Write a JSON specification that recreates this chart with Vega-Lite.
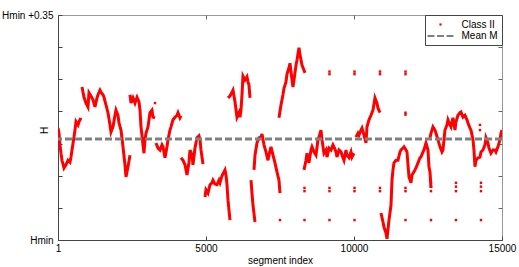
{
  "$schema": "https://vega.github.io/schema/vega-lite/v6.json",
  "width": 444,
  "height": 225,
  "autosize": "none",
  "padding": {"left": 58, "top": 15, "right": 17, "bottom": 27},
  "config": {
    "font": "Liberation Sans",
    "view": {"stroke": "#999999", "strokeWidth": 1},
    "axis": {"labelFontSize": 10, "titleFontSize": 10, "titleFontWeight": "normal", "labelColor": "#000000", "titleColor": "#000000", "grid": false, "labelOverlap": false, "labelFlush": false}
  },
  "layer": [
    {
      "layer": [
        {
          "data": {"values": [
            {"x":1,"y":0.174,"s":"A"},{"x":35,"y":0.166,"s":"A"},{"x":69,"y":0.148,"s":"A"},{"x":102,"y":0.135,"s":"A"},{"x":136,"y":0.124,"s":"A"},{"x":204,"y":0.112,"s":"A"},{"x":271,"y":0.117,"s":"A"},{"x":339,"y":0.124,"s":"A"},{"x":406,"y":0.121,"s":"A"},{"x":440,"y":0.129,"s":"A"},{"x":474,"y":0.140,"s":"A"},{"x":541,"y":0.160,"s":"A"},{"x":575,"y":0.171,"s":"A"},{"x":609,"y":0.184,"s":"A"},{"x":677,"y":0.179,"s":"A"},{"x":710,"y":0.184,"s":"A"},{"x":744,"y":0.187,"s":"A"},{"x":778,"y":0.190,"s":"A"},
            {"x":812,"y":0.238,"s":"B"},{"x":879,"y":0.222,"s":"B"},{"x":947,"y":0.213,"s":"B"},{"x":1014,"y":0.207,"s":"B"},{"x":1048,"y":0.229,"s":"B"},{"x":1116,"y":0.224,"s":"B"},{"x":1183,"y":0.218,"s":"B"},{"x":1251,"y":0.207,"s":"B"},{"x":1318,"y":0.221,"s":"B"},{"x":1352,"y":0.226,"s":"B"},{"x":1420,"y":0.233,"s":"B"},{"x":1454,"y":0.230,"s":"B"},{"x":1521,"y":0.226,"s":"B"},{"x":1555,"y":0.222,"s":"B"},{"x":1622,"y":0.210,"s":"B"},{"x":1690,"y":0.198,"s":"B"},{"x":1758,"y":0.179,"s":"B"},{"x":1791,"y":0.168,"s":"B"},{"x":1859,"y":0.176,"s":"B"},{"x":1926,"y":0.194,"s":"B"},{"x":1960,"y":0.202,"s":"B"},{"x":2028,"y":0.194,"s":"B"},{"x":2062,"y":0.182,"s":"B"},{"x":2129,"y":0.171,"s":"B"},{"x":2197,"y":0.145,"s":"B"},{"x":2264,"y":0.117,"s":"B"},{"x":2298,"y":0.098,"s":"B"},{"x":2366,"y":0.114,"s":"B"},{"x":2433,"y":0.132,"s":"B"},
            {"x":2433,"y":0.226,"s":"C"},{"x":2467,"y":0.213,"s":"C"},{"x":2534,"y":0.221,"s":"C"},{"x":2602,"y":0.213,"s":"C"},{"x":2670,"y":0.222,"s":"C"},{"x":2737,"y":0.215,"s":"C"},{"x":2771,"y":0.202,"s":"C"},{"x":2805,"y":0.176,"s":"C"},{"x":2838,"y":0.163,"s":"C"},{"x":2872,"y":0.148,"s":"C"},{"x":2906,"y":0.135,"s":"C"},{"x":2940,"y":0.156,"s":"C"},{"x":2974,"y":0.166,"s":"C"},{"x":3041,"y":0.176,"s":"C"},{"x":3109,"y":0.198,"s":"C"},{"x":3176,"y":0.202,"s":"C"},{"x":3210,"y":0.191,"s":"C"},{"x":3278,"y":0.190,"s":"C"},
            {"x":3311,"y":0.151,"s":"D"},{"x":3379,"y":0.143,"s":"D"},{"x":3447,"y":0.140,"s":"D"},{"x":3514,"y":0.148,"s":"D"},{"x":3548,"y":0.145,"s":"D"},{"x":3615,"y":0.128,"s":"D"},{"x":3683,"y":0.145,"s":"D"},{"x":3717,"y":0.156,"s":"D"},{"x":3784,"y":0.171,"s":"D"},{"x":3818,"y":0.176,"s":"D"},{"x":3886,"y":0.187,"s":"D"},{"x":3953,"y":0.191,"s":"D"},{"x":4021,"y":0.194,"s":"D"},{"x":4055,"y":0.198,"s":"D"},{"x":4122,"y":0.190,"s":"D"},{"x":4156,"y":0.193,"s":"D"},
            {"x":4156,"y":0.128,"s":"E"},{"x":4224,"y":0.124,"s":"E"},{"x":4291,"y":0.117,"s":"E"},{"x":4359,"y":0.101,"s":"E"},{"x":4426,"y":0.121,"s":"E"},{"x":4460,"y":0.140,"s":"E"},{"x":4528,"y":0.132,"s":"E"},{"x":4561,"y":0.117,"s":"E"},{"x":4629,"y":0.143,"s":"E"},{"x":4696,"y":0.159,"s":"E"},{"x":4764,"y":0.162,"s":"E"},{"x":4798,"y":0.156,"s":"E"},{"x":4832,"y":0.140,"s":"E"},{"x":4899,"y":0.118,"s":"E"},
            {"x":4967,"y":0.067,"s":"F"},{"x":5000,"y":0.078,"s":"F"},{"x":5068,"y":0.073,"s":"F"},{"x":5136,"y":0.086,"s":"F"},{"x":5203,"y":0.089,"s":"F"},{"x":5237,"y":0.093,"s":"F"},{"x":5304,"y":0.087,"s":"F"},{"x":5372,"y":0.086,"s":"F"},{"x":5440,"y":0.093,"s":"F"},{"x":5473,"y":0.089,"s":"F"},{"x":5541,"y":0.100,"s":"F"},{"x":5608,"y":0.106,"s":"F"},{"x":5642,"y":0.109,"s":"F"},{"x":5676,"y":0.101,"s":"F"},{"x":5710,"y":0.086,"s":"F"},{"x":5744,"y":0.062,"s":"F"},{"x":5777,"y":0.047,"s":"F"},{"x":5811,"y":0.031,"s":"F"},
            {"x":5744,"y":0.221,"s":"G"},{"x":5811,"y":0.224,"s":"G"},{"x":5879,"y":0.230,"s":"G"},{"x":5913,"y":0.233,"s":"G"},{"x":5980,"y":0.215,"s":"G"},{"x":6048,"y":0.191,"s":"G"},{"x":6115,"y":0.198,"s":"G"},{"x":6149,"y":0.191,"s":"G"},{"x":6183,"y":0.202,"s":"G"},{"x":6217,"y":0.226,"s":"G"},{"x":6250,"y":0.255,"s":"G"},{"x":6318,"y":0.249,"s":"G"},{"x":6385,"y":0.254,"s":"G"},{"x":6419,"y":0.246,"s":"G"},{"x":6453,"y":0.241,"s":"G"},{"x":6487,"y":0.221,"s":"G"},
            {"x":6521,"y":0.093,"s":"H"},{"x":6554,"y":0.073,"s":"H"},{"x":6588,"y":0.054,"s":"H"},{"x":6656,"y":0.028,"s":"H"},
            {"x":6622,"y":0.109,"s":"I"},{"x":6656,"y":0.132,"s":"I"},{"x":6723,"y":0.151,"s":"I"},{"x":6791,"y":0.159,"s":"I"},{"x":6858,"y":0.160,"s":"I"},{"x":6892,"y":0.165,"s":"I"},{"x":6960,"y":0.148,"s":"I"},{"x":7027,"y":0.137,"s":"I"},{"x":7095,"y":0.124,"s":"I"},{"x":7129,"y":0.132,"s":"I"},{"x":7196,"y":0.145,"s":"I"},{"x":7264,"y":0.132,"s":"I"},{"x":7331,"y":0.120,"s":"I"},{"x":7399,"y":0.106,"s":"I"},{"x":7466,"y":0.093,"s":"I"},{"x":7500,"y":0.073,"s":"I"},
            {"x":7466,"y":0.190,"s":"J"},{"x":7534,"y":0.210,"s":"J"},{"x":7601,"y":0.226,"s":"J"},{"x":7635,"y":0.236,"s":"J"},{"x":7703,"y":0.246,"s":"J"},{"x":7737,"y":0.258,"s":"J"},{"x":7804,"y":0.268,"s":"J"},{"x":7838,"y":0.275,"s":"J"},{"x":7906,"y":0.249,"s":"J"},{"x":7939,"y":0.238,"s":"J"},{"x":7973,"y":0.249,"s":"J"},{"x":8041,"y":0.272,"s":"J"},{"x":8075,"y":0.280,"s":"J"},{"x":8142,"y":0.299,"s":"J"},{"x":8176,"y":0.288,"s":"J"},{"x":8243,"y":0.272,"s":"J"},{"x":8311,"y":0.264,"s":"J"},{"x":8345,"y":0.260,"s":"J"},
            {"x":8311,"y":0.109,"s":"K"},{"x":8379,"y":0.124,"s":"K"},{"x":8412,"y":0.135,"s":"K"},{"x":8480,"y":0.120,"s":"K"},{"x":8547,"y":0.140,"s":"K"},{"x":8581,"y":0.145,"s":"K"},{"x":8649,"y":0.137,"s":"K"},{"x":8716,"y":0.132,"s":"K"},{"x":8784,"y":0.156,"s":"K"},{"x":8818,"y":0.160,"s":"K"},{"x":8885,"y":0.171,"s":"K"},{"x":8919,"y":0.156,"s":"K"},{"x":8986,"y":0.135,"s":"K"},{"x":9054,"y":0.140,"s":"K"},{"x":9088,"y":0.129,"s":"K"},{"x":9155,"y":0.143,"s":"K"},{"x":9223,"y":0.140,"s":"K"},{"x":9290,"y":0.148,"s":"K"},{"x":9324,"y":0.145,"s":"K"},{"x":9392,"y":0.137,"s":"K"},{"x":9425,"y":0.129,"s":"K"},{"x":9493,"y":0.140,"s":"K"},{"x":9561,"y":0.137,"s":"K"},{"x":9628,"y":0.128,"s":"K"},{"x":9662,"y":0.124,"s":"K"},{"x":9730,"y":0.140,"s":"K"},{"x":9763,"y":0.132,"s":"K"},{"x":9831,"y":0.128,"s":"K"},{"x":9898,"y":0.137,"s":"K"},{"x":9932,"y":0.129,"s":"K"},{"x":10000,"y":0.135,"s":"K"},
            {"x":10067,"y":0.160,"s":"L"},{"x":10135,"y":0.166,"s":"L"},{"x":10169,"y":0.163,"s":"L"},{"x":10236,"y":0.171,"s":"L"},{"x":10270,"y":0.174,"s":"L"},{"x":10338,"y":0.163,"s":"L"},{"x":10405,"y":0.151,"s":"L"},{"x":10439,"y":0.176,"s":"L"},{"x":10507,"y":0.187,"s":"L"},{"x":10574,"y":0.194,"s":"L"},{"x":10642,"y":0.202,"s":"L"},{"x":10709,"y":0.221,"s":"L"},{"x":10777,"y":0.213,"s":"L"},{"x":10811,"y":0.205,"s":"L"},{"x":10878,"y":0.198,"s":"L"},
            {"x":10912,"y":0.042,"s":"M"},{"x":10980,"y":0.028,"s":"M"},{"x":11013,"y":0.020,"s":"M"},{"x":11081,"y":0.011,"s":"M"},{"x":11115,"y":0.002,"s":"M"},{"x":11148,"y":0.016,"s":"M"},{"x":11182,"y":0.031,"s":"M"},{"x":11250,"y":0.054,"s":"M"},{"x":11284,"y":0.093,"s":"M"},{"x":11317,"y":0.109,"s":"M"},{"x":11351,"y":0.120,"s":"M"},{"x":11419,"y":0.124,"s":"M"},{"x":11486,"y":0.124,"s":"M"},{"x":11554,"y":0.137,"s":"M"},{"x":11588,"y":0.140,"s":"M"},{"x":11655,"y":0.143,"s":"M"},{"x":11689,"y":0.145,"s":"M"},{"x":11757,"y":0.140,"s":"M"},{"x":11790,"y":0.137,"s":"M"},{"x":11858,"y":0.098,"s":"M"},{"x":11925,"y":0.089,"s":"M"},{"x":11959,"y":0.101,"s":"M"},{"x":12027,"y":0.106,"s":"M"},{"x":12094,"y":0.112,"s":"M"},{"x":12162,"y":0.120,"s":"M"},{"x":12229,"y":0.128,"s":"M"},{"x":12263,"y":0.129,"s":"M"},{"x":12331,"y":0.137,"s":"M"},{"x":12364,"y":0.140,"s":"M"},{"x":12432,"y":0.151,"s":"M"},{"x":12500,"y":0.140,"s":"M"},{"x":12533,"y":0.114,"s":"M"},{"x":12567,"y":0.106,"s":"M"},{"x":12601,"y":0.081,"s":"M"},
            {"x":12567,"y":0.159,"s":"N"},{"x":12601,"y":0.166,"s":"N"},{"x":12668,"y":0.176,"s":"N"},{"x":12736,"y":0.171,"s":"N"},{"x":12770,"y":0.166,"s":"N"},{"x":12837,"y":0.156,"s":"N"},{"x":12905,"y":0.145,"s":"N"},{"x":12972,"y":0.137,"s":"N"},{"x":13006,"y":0.140,"s":"N"},{"x":13074,"y":0.171,"s":"N"},{"x":13141,"y":0.179,"s":"N"},{"x":13175,"y":0.187,"s":"N"},{"x":13243,"y":0.179,"s":"N"},{"x":13276,"y":0.176,"s":"N"},{"x":13344,"y":0.190,"s":"N"},{"x":13412,"y":0.171,"s":"N"},{"x":13445,"y":0.184,"s":"N"},{"x":13513,"y":0.194,"s":"N"},{"x":13580,"y":0.198,"s":"N"},{"x":13614,"y":0.199,"s":"N"},{"x":13682,"y":0.191,"s":"N"},{"x":13749,"y":0.194,"s":"N"},{"x":13817,"y":0.187,"s":"N"},{"x":13851,"y":0.182,"s":"N"},{"x":13918,"y":0.174,"s":"N"},{"x":13952,"y":0.171,"s":"N"},{"x":14020,"y":0.156,"s":"N"},{"x":14053,"y":0.140,"s":"N"},{"x":14087,"y":0.114,"s":"N"},{"x":14121,"y":0.124,"s":"N"},{"x":14189,"y":0.128,"s":"N"},{"x":14256,"y":0.129,"s":"N"},{"x":14290,"y":0.137,"s":"N"},{"x":14357,"y":0.140,"s":"N"},{"x":14425,"y":0.148,"s":"N"},{"x":14459,"y":0.159,"s":"N"},{"x":14526,"y":0.151,"s":"N"},{"x":14560,"y":0.143,"s":"N"},{"x":14628,"y":0.135,"s":"N"},{"x":14695,"y":0.140,"s":"N"},{"x":14763,"y":0.140,"s":"N"},{"x":14797,"y":0.137,"s":"N"},{"x":14864,"y":0.145,"s":"N"},{"x":14931,"y":0.156,"s":"N"},{"x":14965,"y":0.166,"s":"N"},{"x":15000,"y":0.171,"s":"N"}
          ]},
          "mark": {"type": "line", "color": "#ff0000", "strokeWidth": 3, "clip": true},
          "encoding": {
            "x": {"field": "x", "type": "quantitative", "scale": {"domain": [1, 15000], "nice": false, "zero": false},
                  "axis": {"orient": "bottom", "values": [1, 5000, 10000, 14999.99], "tickCount": 20, "labelExpr": "datum.value > 14999 ? '15000' : format(datum.value, 'd')", "title": "segment index", "tickSize": -4, "labelPadding": 7, "titlePadding": 2, "domainColor": "#444444", "tickColor": "#444444", "labelFlush": false, "labelOverlap": false}},
            "y": {"field": "y", "type": "quantitative", "scale": {"domain": [0, 0.35], "nice": false, "zero": false},
                  "axis": {"orient": "left", "values": [0, 0.05, 0.1, 0.15, 0.2, 0.25, 0.3, 0.34999], "tickCount": 20, "labelExpr": "datum.value < 0.001 ? 'Hmin' : (datum.value > 0.34 ? 'Hmin +0.35' : '')", "labelOverlap": false, "labelBound": false, "labelFlush": false, "labelBaseline": "middle", "title": "H", "titleX": -14, "titleY": 115, "titleAngle": 270, "titleBaseline": "middle", "titleAlign": "center", "tickSize": -4, "labelPadding": 9, "domainColor": "#444444", "tickColor": "#444444"}},
            "detail": {"field": "s"}
          }
        },
        {
          "data": {"values": [
            {"x":9172,"y":0.262},{"x":9172,"y":0.258},
            {"x":10017,"y":0.262},{"x":10017,"y":0.258},
            {"x":10878,"y":0.262},{"x":10878,"y":0.258},
            {"x":11740,"y":0.262},{"x":11740,"y":0.258},
            {"x":11740,"y":0.198},{"x":11740,"y":0.195},
            {"x":3278,"y":0.213},
            {"x":8328,"y":0.081},{"x":8328,"y":0.076},
            {"x":9172,"y":0.081},{"x":9172,"y":0.076},
            {"x":10017,"y":0.081},{"x":10017,"y":0.076},
            {"x":10878,"y":0.081},{"x":10878,"y":0.076},
            {"x":11740,"y":0.081},{"x":11740,"y":0.076},
            {"x":12601,"y":0.089},{"x":12601,"y":0.083},{"x":12601,"y":0.076},
            {"x":13445,"y":0.089},{"x":13445,"y":0.083},{"x":13445,"y":0.076},
            {"x":14290,"y":0.089},{"x":14290,"y":0.083},{"x":14290,"y":0.076},
            {"x":7500,"y":0.031},{"x":8328,"y":0.031},{"x":9172,"y":0.031},{"x":10017,"y":0.031},{"x":11740,"y":0.031},{"x":12601,"y":0.031},{"x":13445,"y":0.031},{"x":14290,"y":0.031},
            {"x":14256,"y":0.179},{"x":14256,"y":0.171}
          ]},
          "mark": {"type": "point", "filled": true, "size": 6, "opacity": 1, "shape": "square", "color": "#ff0000"},
          "encoding": {
            "x": {"field": "x", "type": "quantitative", "scale": {"domain": [1, 15000], "nice": false, "zero": false}},
            "y": {"field": "y", "type": "quantitative", "scale": {"domain": [0, 0.35], "nice": false, "zero": false}}
          }
        },
        {
          "data": {"values": [{"m": 0.157}]},
          "mark": {"type": "rule", "color": "#808080", "strokeWidth": 3, "strokeDash": [7, 3]},
          "encoding": {"y": {"field": "m", "type": "quantitative"}}
        },
        {
          "data": {"values": [{"x": -9000, "y": 0.1, "series": "Class II"}, {"x": -9000, "y": 0.1, "series": "Mean M"}]},
          "mark": {"type": "point", "filled": true, "size": 100, "opacity": 1, "clip": true},
          "encoding": {
            "x": {"field": "x", "type": "quantitative", "scale": {"domain": [1, 15000], "nice": false, "zero": false}},
            "y": {"field": "y", "type": "quantitative", "scale": {"domain": [0, 0.35], "nice": false, "zero": false}},
            "color": {"field": "series", "type": "nominal", "scale": {"domain": ["Class II", "Mean M"], "range": ["#ff0000", "#808080"]},
                      "legend": {"title": null, "orient": "top-right", "offset": 0, "padding": 3.5, "strokeColor": "#444444", "fillColor": "#ffffff", "labelFontSize": 10, "labelOffset": 15, "symbolOffset": 6, "rowPadding": 0.5}},
            "shape": {"field": "series", "type": "nominal", "scale": {"domain": ["Class II", "Mean M"], "range": ["M-0.22,-0.22H0.22V0.22H-0.22Z", "M-2.6,-0.2H-1.2V0.2H-2.6Z M-0.7,-0.2H0.7V0.2H-0.7Z M1.2,-0.2H2.6V0.2H1.2Z"]},
                      "legend": {"title": null, "orient": "top-right", "offset": 0, "padding": 3.5, "strokeColor": "#444444", "fillColor": "#ffffff", "labelFontSize": 10, "labelOffset": 15, "symbolOffset": 6, "rowPadding": 0.5}}
          }
        }
      ]
    },
    {
      "data": {"values": [{"x": 1, "y": 0}]},
      "mark": {"type": "point", "opacity": 0},
      "encoding": {
        "x": {"field": "x", "type": "quantitative", "scale": {"domain": [1, 15000], "nice": false, "zero": false},
              "axis": {"orient": "top", "values": [5000, 10000], "tickCount": 20, "labels": false, "domain": false, "title": null, "tickSize": -4, "tickColor": "#666666"}},
        "y": {"field": "y", "type": "quantitative", "scale": {"domain": [0, 0.35], "nice": false, "zero": false},
              "axis": {"orient": "right", "values": [0.05, 0.1, 0.15, 0.2, 0.25, 0.3], "tickCount": 20, "labels": false, "domain": false, "title": null, "tickSize": -4, "tickColor": "#666666"}}
      }
    }
  ],
  "resolve": {"scale": {"x": "independent", "y": "independent"}}
}
